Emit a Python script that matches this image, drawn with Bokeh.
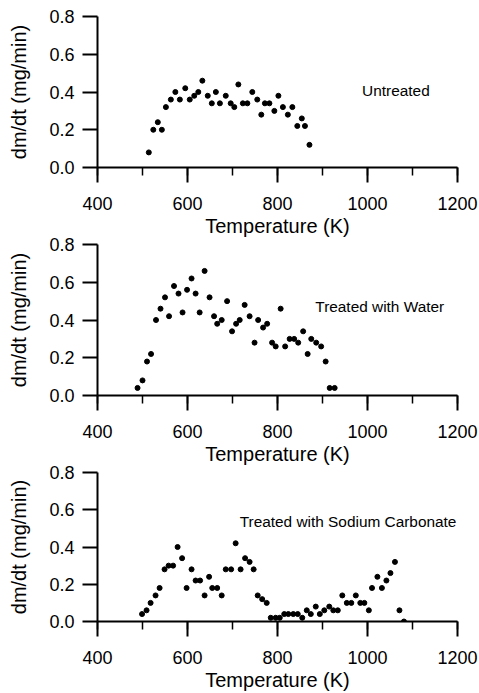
from bokeh.plotting import figure
from bokeh.layouts import column
from bokeh.models import Range1d, SingleIntervalTicker, PrintfTickFormatter
from bokeh.core.properties import value
from bokeh.embed import file_html
from bokeh.resources import INLINE

# ---- data ----
temp_untreated = [514, 524, 534, 543, 552, 563, 573, 583, 595, 605, 615, 624, 633, 645, 654,
                  663, 672, 685, 696, 704, 713, 723, 733, 744, 755, 764, 772, 782, 793, 802,
                  812, 823, 833, 844, 854, 861, 871]
rate_untreated = [0.08, 0.20, 0.24, 0.20, 0.32, 0.36, 0.40, 0.36, 0.42, 0.36, 0.38, 0.40, 0.46,
                  0.38, 0.34, 0.40, 0.34, 0.38, 0.34, 0.32, 0.44, 0.34, 0.34, 0.40, 0.36, 0.28,
                  0.34, 0.34, 0.30, 0.38, 0.32, 0.28, 0.32, 0.22, 0.26, 0.22, 0.12]

temp_water = [489, 500, 510, 519, 530, 540, 550, 559, 570, 580, 589, 599, 609, 618, 627,
              638, 649, 659, 666, 676, 688, 699, 708, 716, 727, 738, 749, 757, 768, 777,
              788, 796, 807, 817, 827, 837, 846, 857, 867, 875, 886, 897, 907, 916, 927]
rate_water = [0.04, 0.08, 0.18, 0.22, 0.40, 0.46, 0.52, 0.42, 0.58, 0.54, 0.44, 0.56, 0.62,
              0.54, 0.44, 0.66, 0.52, 0.42, 0.38, 0.40, 0.50, 0.34, 0.38, 0.40, 0.48, 0.42,
              0.28, 0.40, 0.36, 0.38, 0.28, 0.26, 0.46, 0.26, 0.30, 0.30, 0.28, 0.34, 0.22,
              0.30, 0.28, 0.26, 0.18, 0.04, 0.04]

temp_carbonate = [499, 509, 518, 529, 538, 549, 558, 568, 578, 588, 598, 609, 618, 628, 638,
                  648, 655, 666, 676, 685, 697, 707, 718, 728, 738, 747, 756, 766, 776, 785,
                  796, 805, 815, 824, 835, 845, 855, 865, 874, 885, 894, 904, 915, 924, 934,
                  944, 954, 964, 974, 984, 993, 1003, 1010, 1022, 1032, 1042, 1051, 1061, 1071, 1081]
rate_carbonate = [0.04, 0.06, 0.10, 0.14, 0.18, 0.28, 0.30, 0.30, 0.40, 0.34, 0.18, 0.28, 0.22,
                  0.22, 0.14, 0.24, 0.18, 0.18, 0.14, 0.28, 0.28, 0.42, 0.28, 0.34, 0.32, 0.28,
                  0.14, 0.12, 0.10, 0.02, 0.02, 0.02, 0.04, 0.04, 0.04, 0.04, 0.02, 0.06, 0.04,
                  0.08, 0.04, 0.06, 0.08, 0.06, 0.06, 0.14, 0.10, 0.10, 0.14, 0.10, 0.10, 0.06,
                  0.18, 0.24, 0.18, 0.22, 0.26, 0.32, 0.06, 0.00]

labels = ["Untreated", "Treated with Water", "Treated with Sodium Carbonate"]
label_x = [988, 884, 716]
label_y = [0.41, 0.47, 0.535]

x_title = "Temperature (K)"
y_title = "dm/dt (mg/min)"

FONT = "Liberation Sans"


def make_panel(xs, ys, label, lx, ly, height, border_top, border_left, border_right, margin):
    p = figure(width=479, height=height, output_backend="svg", toolbar_location=None,
               x_range=Range1d(400, 1200), y_range=Range1d(0, 0.8),
               min_border_left=border_left, min_border_right=border_right,
               min_border_top=border_top, min_border_bottom=72, margin=margin)
    p.outline_line_color = None
    p.grid.visible = False
    p.background_fill_color = None
    p.border_fill_color = None

    p.scatter(xs, ys, size=5, color="black")
    p.text(x=[lx], y=[ly], text=[label], text_font=value(FONT), text_font_size="15.4px",
           text_color="black", text_baseline="alphabetic", text_align="left")

    xa = p.xaxis[0]
    xa.ticker = SingleIntervalTicker(interval=200, num_minor_ticks=2)
    ya = p.yaxis[0]
    ya.ticker = SingleIntervalTicker(interval=0.2, num_minor_ticks=0)
    ya.formatter = PrintfTickFormatter(format="%.1f")

    for ax in (xa, ya):
        ax.axis_line_width = 2
        ax.axis_line_color = "black"
        ax.major_tick_line_width = 2
        ax.major_tick_line_color = "black"
        ax.minor_tick_line_width = 1.5
        ax.minor_tick_line_color = "black"
        ax.major_tick_in = 0
        ax.major_tick_out = 15
        ax.minor_tick_in = 0
        ax.minor_tick_out = 8
        ax.major_label_text_font = FONT
        ax.major_label_text_font_size = "18px"
        ax.major_label_text_color = "black"
        ax.axis_label_text_font = FONT
        ax.axis_label_text_font_size = "20px"
        ax.axis_label_text_font_style = "normal"
        ax.axis_label_text_color = "black"

    xa.axis_label = x_title
    xa.major_label_standoff = 14
    xa.axis_label_standoff = 2
    ya.axis_label = y_title
    ya.major_label_standoff = 8
    ya.axis_label_standoff = 16
    return p


# panel 1: frame y 16..167 ; panel 2: frame 244..395 ; panel 3: frame 472..621
p1 = make_panel(temp_untreated, rate_untreated, labels[0], label_x[0], label_y[0],
                239, 16, 97, 19, (0, 0, 0, 0))
p2 = make_panel(temp_water, rate_water, labels[1], label_x[1], label_y[1],
                235, 12, 96, 20, (-7, 0, 0, 0))
p3 = make_panel(temp_carbonate, rate_carbonate, labels[2], label_x[2], label_y[2],
                233, 12, 94, 22, (-7, 0, 0, 0))

layout = column(p1, p2, p3, spacing=0)
open("out.html", "w").write(file_html(layout, INLINE))
